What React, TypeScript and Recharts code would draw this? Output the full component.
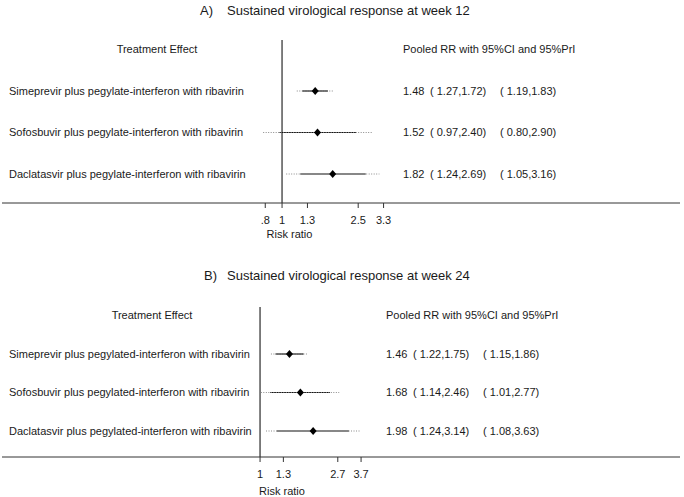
import React from 'react';
import { ComposedChart, Line, Scatter, XAxis, YAxis, ReferenceLine } from 'recharts';

// ---------- Data ----------
const treatmentsA = [
  'Simeprevir plus pegylate-interferon with ribavirin',
  'Sofosbuvir plus pegylate-interferon with ribavirin',
  'Daclatasvir plus pegylate-interferon with ribavirin',
];
const estA = [1.48, 1.52, 1.82];
const ciLowA = [1.27, 0.97, 1.24];
const ciHighA = [1.72, 2.4, 2.69];
const priLowA = [1.19, 0.8, 1.05];
const priHighA = [1.83, 2.9, 3.16];
const tickValuesA = [0.82, 1, 1.35, 2.46, 3.32];
const tickLabelsA = ['.8', '1', '1.3', '2.5', '3.3'];

const treatmentsB = [
  'Simeprevir plus pegylated-interferon with ribavirin',
  'Sofosbuvir plus pegylated-interferon with ribavirin',
  'Daclatasvir plus pegylated-interferon with ribavirin',
];
const estB = [1.46, 1.68, 1.98];
const ciLowB = [1.22, 1.14, 1.24];
const ciHighB = [1.75, 2.46, 3.14];
const priLowB = [1.15, 1.01, 1.08];
const priHighB = [1.86, 2.77, 3.63];
const tickValuesB = [1, 1.35, 2.72, 3.67];
const tickLabelsB = ['1', '1.3', '2.7', '3.7'];

const titleA = 'Sustained virological response at week 12';
const titleB = 'Sustained virological response at week 24';
const headerLeft = 'Treatment Effect';
const headerRight = 'Pooled RR with 95%CI and 95%PrI';
const axisTitle = 'Risk ratio';

// ---------- Styling ----------
const FONT = '"Liberation Sans", Arial, sans-serif';
const TEXT = '#1a1a1a';

type PanelCfg = {
  names: string[];
  est: number[];
  ciLow: number[];
  ciHigh: number[];
  priLow: number[];
  priHigh: number[];
  ticks: number[];
  tickLabels: string[];
  xDomain: [number, number];
  yDomain: [number, number];
  height: number;
  top: number;
  bottom: number;
  estX: number;
};

const panelA: PanelCfg = {
  names: treatmentsA,
  est: estA,
  ciLow: ciLowA,
  ciHigh: ciHighA,
  priLow: priLowA,
  priHigh: priHighA,
  ticks: tickValuesA,
  tickLabels: tickLabelsA,
  xDomain: [0.0365, 110.4],
  yDomain: [-0.229, 3.699],
  height: 250,
  top: 40,
  bottom: 17,
  estX: 403,
};

const panelB: PanelCfg = {
  names: treatmentsB,
  est: estB,
  ciLow: ciLowB,
  ciHigh: ciHighB,
  priLow: priLowB,
  priHigh: priHighB,
  ticks: tickValuesB,
  tickLabels: tickLabelsB,
  xDomain: [0.0361, 222.6],
  yDomain: [-0.221, 3.675],
  height: 247,
  top: 57,
  bottom: 10,
  estX: 386,
};

const f2 = (v: number) => v.toFixed(2);

function Diamond(props: any) {
  const { cx, cy } = props;
  if (cx == null || cy == null) return null;
  return (
    <path
      d={`M${cx},${cy - 4}L${cx + 3.5},${cy}L${cx},${cy + 4}L${cx - 3.5},${cy}Z`}
      fill="#000"
    />
  );
}

function ForestPanel({ p }: { p: PanelCfg }) {
  const rows = p.names.map((_, i) => i + 1);
  const estPts = p.est.map((v, i) => ({ x: v, y: i + 1 }));
  const textPts = p.names.map((_, i) => ({ x: 1, y: i + 1, i }));

  const RowText = (props: any) => {
    const { cy, payload } = props;
    if (cy == null || !payload) return null;
    const i = payload.i;
    const common = { y: cy, dy: '0.35em', fontSize: 11, fill: TEXT, fontFamily: FONT };
    return (
      <g>
        <text x={9} textAnchor="start" {...common}>{p.names[i]}</text>
        <text x={p.estX} textAnchor="start" {...common}>{f2(p.est[i])}</text>
        <text x={p.estX + 27} textAnchor="start" {...common}>{`( ${f2(p.ciLow[i])},${f2(p.ciHigh[i])})`}</text>
        <text x={p.estX + 97} textAnchor="start" {...common}>{`( ${f2(p.priLow[i])},${f2(p.priHigh[i])})`}</text>
      </g>
    );
  };

  return (
    <ComposedChart
      width={684}
      height={p.height}
      margin={{ top: p.top, right: 4, bottom: p.bottom, left: 2 }}
    >
      <XAxis
        type="number"
        dataKey="x"
        scale="log"
        domain={p.xDomain}
        allowDataOverflow
        ticks={p.ticks}
        interval={0}
        tickFormatter={(v: number) => {
          const k = p.ticks.indexOf(v);
          return k >= 0 ? p.tickLabels[k] : '';
        }}
        tickSize={5}
        tickMargin={8}
        stroke="#333"
        tick={{ fontSize: 11, fill: TEXT, fontFamily: FONT }}
        height={30}
      />
      <YAxis
        type="number"
        dataKey="y"
        domain={p.yDomain}
        reversed
        allowDataOverflow
        width={0}
        ticks={rows}
        hide
      />
      <ReferenceLine x={1} stroke="#555" strokeWidth={1.5} />
      {p.names.map((_, i) => (
        <Line
          key={`ci${i}`}
          data={[
            { x: p.ciLow[i], y: i + 1 },
            { x: p.ciHigh[i], y: i + 1 },
          ]}
          dataKey="y"
          type="linear"
          stroke="#111"
          strokeWidth={1.2}
          dot={false}
          activeDot={false}
          isAnimationActive={false}
        />
      ))}
      {p.names.map((_, i) => (
        <Line
          key={`pri${i}`}
          data={[
            { x: p.priLow[i], y: i + 1 },
            { x: p.priHigh[i], y: i + 1 },
          ]}
          dataKey="y"
          type="linear"
          stroke="#8a8a8a"
          strokeWidth={1.2}
          strokeDasharray="1 1.5"
          dot={false}
          activeDot={false}
          isAnimationActive={false}
        />
      ))}
      <Scatter data={estPts} shape={<Diamond />} isAnimationActive={false} />
      <Scatter data={textPts} shape={<RowText />} isAnimationActive={false} />
    </ComposedChart>
  );
}

export default function App() {
  const t = { fontFamily: FONT, fill: TEXT };
  return (
    <div style={{ position: 'absolute', left: 0, top: 0, width: 684, height: 497, background: '#fff' }}>
      <div style={{ position: 'absolute', left: 0, top: 0 }}>
        <ForestPanel p={panelA} />
      </div>
      <div style={{ position: 'absolute', left: 0, top: 250 }}>
        <ForestPanel p={panelB} />
      </div>
      <svg
        width={684}
        height={497}
        style={{ position: 'absolute', left: 0, top: 0, pointerEvents: 'none' }}
      >
        {/* Panel A texts */}
        <text x={200} y={10} dy="0.35em" fontSize={13} {...t}>A)</text>
        <text x={227} y={10} dy="0.35em" fontSize={13} {...t}>{titleA}</text>
        <text x={157} y={49.5} dy="0.35em" fontSize={11} textAnchor="middle" {...t}>{headerLeft}</text>
        <text x={403} y={49.5} dy="0.35em" fontSize={11} {...t}>{headerRight}</text>
        <text x={289.5} y={234} dy="0.35em" fontSize={11} textAnchor="middle" {...t}>{axisTitle}</text>
        {/* Panel B texts */}
        <text x={204} y={275} dy="0.35em" fontSize={13} {...t}>B)</text>
        <text x={227} y={275} dy="0.35em" fontSize={13} {...t}>{titleB}</text>
        <text x={152} y={315.5} dy="0.35em" fontSize={11} textAnchor="middle" {...t}>{headerLeft}</text>
        <text x={386} y={315.5} dy="0.35em" fontSize={11} {...t}>{headerRight}</text>
        <text x={282} y={491} dy="0.35em" fontSize={11} textAnchor="middle" {...t}>{axisTitle}</text>
      </svg>
    </div>
  );
}
